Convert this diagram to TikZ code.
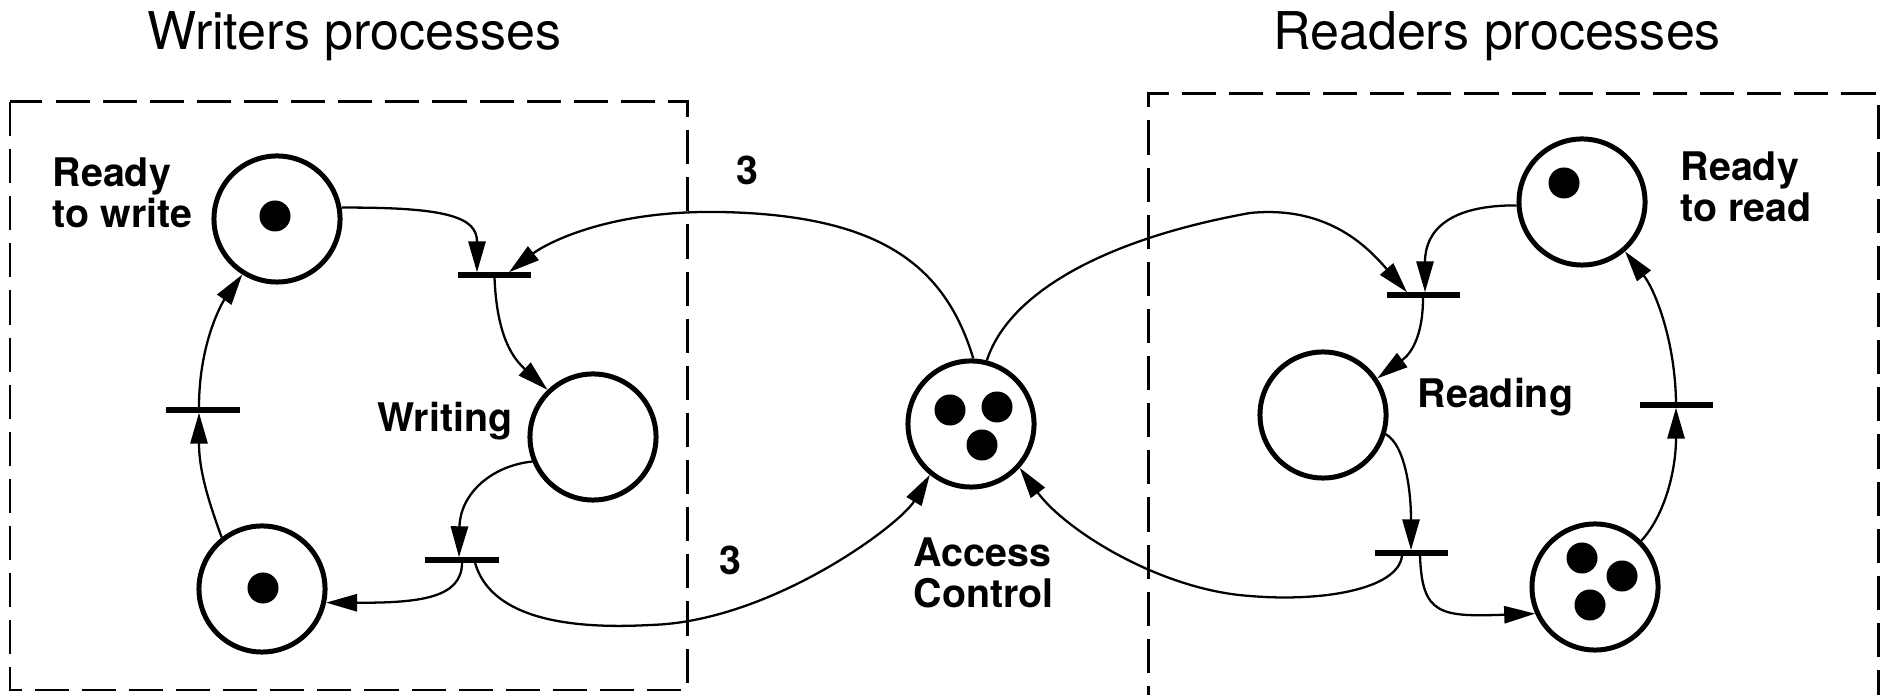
\documentclass[tikz,border=0pt]{standalone}
\usepackage{fontspec}
\setmainfont{TeX Gyre Heros}
\usetikzlibrary{arrows.meta}
\begin{document}
\begin{tikzpicture}[x=0.01cm,y=-0.01cm,
  place/.style={circle,draw,line width=1.42pt,minimum size=1.26cm,inner sep=0pt},
  trans/.style={rectangle,fill,minimum width=0.73cm,minimum height=0.055cm,inner sep=0pt,outer sep=0pt},
  arc/.style={line width=0.65pt,-{Triangle[length=8.8pt,width=4.9pt]}},
  lbl/.style={font=\fontsize{11.2}{11.6}\selectfont\bfseries,inner sep=0pt},
  title/.style={font=\fontsize{14.8}{17}\selectfont,inner sep=0pt},
  box/.style={line width=0.85pt,dash pattern=on 9.7pt off 3.7pt}]
\useasboundingbox (0,0) rectangle (1885,695);
\clip (0,0) rectangle (1885,695);

% titles
\node[title,anchor=base] (tw) at (354.5,50) {Writers processes};
\node[title,anchor=base] (tr) at (1497,50) {Readers processes};

% dashed frames
\draw[box] (10,102) rectangle (687,690);
\draw[box] (1148,720) -- (1148,94) -- (1878,94) -- (1878,720);

% places
\node[place] (rw) at (277,219) {};
\node[place] (w)  at (593,437) {};
\node[place] (bl) at (262,589) {};
\node[place] (ac) at (971,424) {};
\node[place] (rr) at (1582,202) {};
\node[place] (rd) at (1323,415) {};
\node[place] (br) at (1595,587) {};

% tokens
\foreach \p in {(275,216),(263,588),(950,410),(997,407),(982,445),(1564,183),(1582,558),(1622,576),(1590,605)}
  \fill \p circle[radius=0.155cm];

% transitions
\node[trans] (t1) at (494.5,275) {};
\node[trans] (t2) at (462,560) {};
\node[trans] (t6) at (203,410) {};
\node[trans] (t3) at (1423,295) {};
\node[trans] (t4) at (1411,553) {};
\node[trans] (t5) at (1676,405) {};

% labels
\node[lbl,align=left,anchor=west] (lrw) at (52,193) {Ready\\to write};
\node[lbl,align=left,anchor=west] (lrr) at (1680,187) {Ready\\to read};
\node[lbl,anchor=base east] (lw) at (513,432) {Writing};
\node[lbl,anchor=base west] (lrd) at (1417,408) {Reading};
\node[lbl,align=left,anchor=west] (lac) at (913,573) {Access\\Control};
\node[lbl,anchor=base] (n1) at (747,185) {3};
\node[lbl,anchor=base] (n2) at (730,575) {3};

% writers arcs
\draw[arc] (rw.10) .. controls (450,207) and (477,218) .. ([xshift=-0.175cm]t1.north);
\draw[arc] (ac.88) .. controls (945,265) and (880,215) .. (720,212) .. controls (600,210) and (540,248) .. ([xshift=0.145cm]t1.north);
\draw[arc] (t1.south) .. controls (497,340) and (515,360) .. (w.134);
\draw[arc] (w.202) .. controls (490,466) and (460,495) .. ([xshift=-0.03cm]t2.north);
\draw[arc] (t2.south) .. controls (462,598) and (420,603) .. (bl.348);
\draw[arc] (bl.128) .. controls (208,500) and (199,470) .. ([xshift=-0.04cm]t6.south);
\draw[arc] ([xshift=-0.04cm]t6.north) .. controls (199,340) and (224,300) .. (rw.238);
\draw[arc] ([xshift=0.13cm]t2.south) .. controls (490,615) and (560,630) .. (650,625) .. controls (770,622) and (900,525) .. (ac.231);

% readers arcs
\draw[arc] (ac.76) .. controls (1008,295) and (1100,240) .. (1250,213) .. controls (1330,205) and (1370,250) .. ([xshift=-0.16cm]t3.north);
\draw[arc] (rr.183) .. controls (1450,205) and (1425,230) .. ([xshift=0.02cm]t3.north);
\draw[arc] (t3.south) .. controls (1423,345) and (1405,358) .. (rd.34);
\draw[arc] (rd.343) .. controls (1405,445) and (1411,490) .. (t4.north);
\draw[arc] ([xshift=0.09cm]t4.south) .. controls (1422,615) and (1440,617) .. (br.204);
\draw[arc] ([xshift=-0.09cm]t4.south) .. controls (1398,590) and (1320,602) .. (1250,596) .. controls (1160,590) and (1065,530) .. (ac.318);
\draw[arc] (br.45) .. controls (1665,515) and (1676,470) .. (t5.south);
\draw[arc] (t5.north) .. controls (1675,340) and (1655,290) .. (rr.311);
\end{tikzpicture}
\end{document}
